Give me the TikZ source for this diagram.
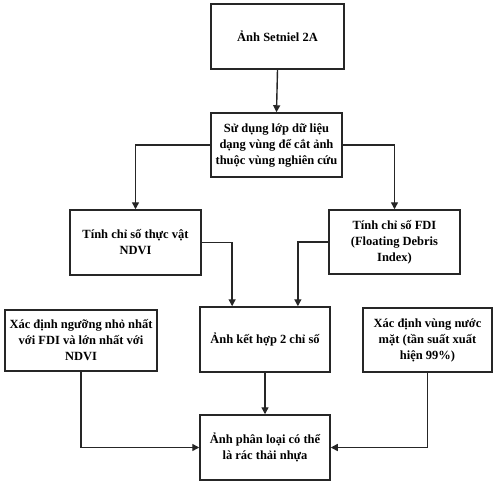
\documentclass[tikz,border=0pt]{standalone}
\usepackage{fontspec}
\setmainfont{Liberation Serif}
\usetikzlibrary{arrows.meta,calc}
\begin{document}
\begin{tikzpicture}[x=1pt,y=-1pt,
  box/.style={draw=black!85,line width=1.5pt,inner sep=0pt,align=center,
    font=\fontsize{12.5}{16}\selectfont\bfseries},
  conn/.style={line width=1.4pt,draw=black!85},
  arr/.style={conn,-{Triangle[length=7pt,width=7pt]}}]
\useasboundingbox (0,0) rectangle (497,487);
\node[box,minimum width=133pt,minimum height=65pt] (b1) at (277.5,36.5) {Ảnh Setniel 2A};
\node[box,minimum width=131pt,minimum height=64pt] (b2) at (276.5,145) {Sử dụng lớp dữ liệu\\dạng vùng để cắt ảnh\\thuộc vùng nghiên cứu};
\node[box,minimum width=131pt,minimum height=65pt] (b3) at (135.5,242.5) {Tính chỉ số thực vật\\NDVI};
\node[box,minimum width=131pt,minimum height=64pt] (b4) at (394.5,242) {Tính chỉ số FDI\\(Floating Debris\\Index)};
\node[box,minimum width=152pt,minimum height=61pt] (b5) at (81,340.5) {Xác định ngưỡng nhỏ nhất\\với FDI và lớn nhất với\\NDVI};
\node[box,minimum width=130pt,minimum height=65pt] (b6) at (265,339.5) {Ảnh kết hợp 2 chỉ số};
\node[box,minimum width=129pt,minimum height=64pt] (b7) at (427.5,340) {Xác định vùng nước\\mặt (tần suất xuất\\hiện 99\%)};
\node[box,minimum width=130pt,minimum height=65pt] (b8) at (265,447.5) {Ảnh phân loại có thể\\là rác thải nhựa};
\draw[arr] (b1.south) -- (b2.north);
\draw[arr] (b2.west) -| (b3.north);
\draw[arr] (b2.east) -| (b4.north);
\draw[arr] (b3.east) -| ($(b6.north west)!0.25!(b6.north east)$);
\draw[arr] (b4.west) -| ($(b6.north west)!0.75!(b6.north east)$);
\draw[arr] (b6.south) -- (b8.north);
\draw[arr] (b5.south) |- (b8.west);
\draw[arr] (b7.south) |- (b8.east);
\end{tikzpicture}
\end{document}
